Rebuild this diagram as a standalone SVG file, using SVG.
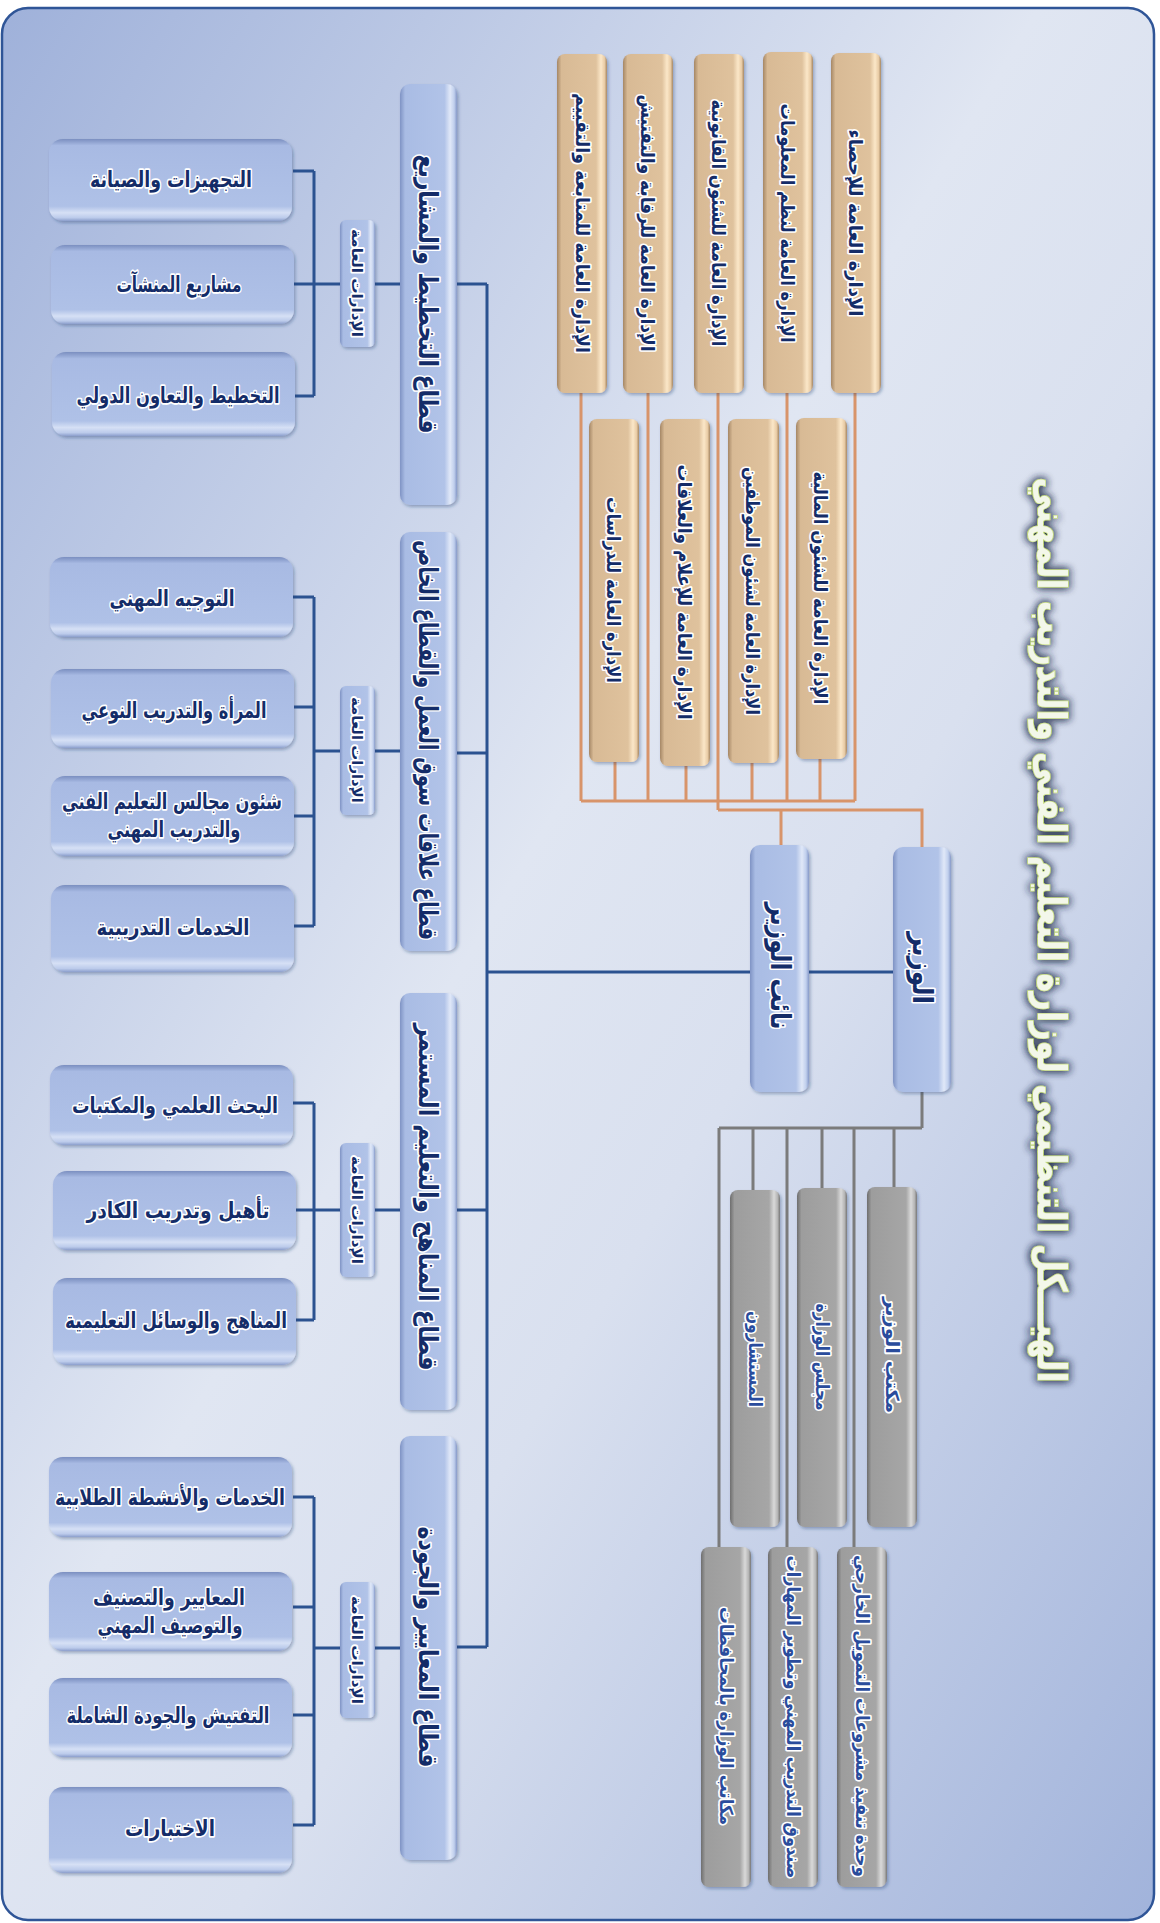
<svg xmlns="http://www.w3.org/2000/svg" width="1160" height="1923" viewBox="0 0 1160 1923">
<defs>
<linearGradient id="bg" x1="0" y1="0" x2="1" y2="1">
<stop offset="0" stop-color="#9fb1da"/>
<stop offset="0.45" stop-color="#e0e6f2"/>
<stop offset="0.6" stop-color="#d9e0ef"/>
<stop offset="1" stop-color="#a1b3db"/>
</linearGradient>
<linearGradient id="gBlueV" x1="0" y1="0" x2="1" y2="0">
<stop offset="0" stop-color="#7f93c4"/>
<stop offset="0.09" stop-color="#a9bce4"/>
<stop offset="0.78" stop-color="#b1c3e8"/>
<stop offset="0.88" stop-color="#e0e8f8"/>
<stop offset="0.95" stop-color="#c0cfed"/>
<stop offset="1" stop-color="#8699c8"/>
</linearGradient>
<linearGradient id="gTan" x1="0" y1="0" x2="1" y2="0">
<stop offset="0" stop-color="#a58766"/>
<stop offset="0.09" stop-color="#d8ba95"/>
<stop offset="0.78" stop-color="#dfc29d"/>
<stop offset="0.88" stop-color="#fbe7c8"/>
<stop offset="0.95" stop-color="#e9cca6"/>
<stop offset="1" stop-color="#a68865"/>
</linearGradient>
<linearGradient id="gGray" x1="0" y1="0" x2="1" y2="0">
<stop offset="0" stop-color="#6e6e6e"/>
<stop offset="0.09" stop-color="#9d9d9d"/>
<stop offset="0.78" stop-color="#a6a6a6"/>
<stop offset="0.88" stop-color="#d9d9d9"/>
<stop offset="0.95" stop-color="#b6b6b6"/>
<stop offset="1" stop-color="#777777"/>
</linearGradient>
<linearGradient id="gLeaf" x1="0" y1="0" x2="0" y2="1">
<stop offset="0" stop-color="#7b8fc0"/>
<stop offset="0.08" stop-color="#a8bae3"/>
<stop offset="0.82" stop-color="#afc1e7"/>
<stop offset="0.9" stop-color="#d6e0f5"/>
<stop offset="0.96" stop-color="#bccbeb"/>
<stop offset="1" stop-color="#8b9ecc"/>
</linearGradient>
<filter id="sh" x="-10%" y="-10%" width="130%" height="130%">
<feDropShadow dx="1.5" dy="2" stdDeviation="1.8" flood-color="#243a6a" flood-opacity="0.35"/>
</filter>
<filter id="glow" x="-10%" y="-30%" width="120%" height="160%">
<feGaussianBlur in="SourceAlpha" stdDeviation="4" result="b"/>
<feFlood flood-color="#29344f" flood-opacity="0.9"/>
<feComposite in2="b" operator="in"/>
<feMerge><feMergeNode/><feMergeNode/><feMergeNode in="SourceGraphic"/></feMerge>
</filter>
<style>
text{font-family:"DejaVu Sans",sans-serif;font-weight:bold;text-anchor:middle;dominant-baseline:central;paint-order:stroke;stroke-linejoin:round}
.t{fill:#142c68;stroke:#ffffff;stroke-width:3.5}
.tg{fill:#2a4c9c;stroke:#ffffff;stroke-width:3.5}
.leaf{fill:url(#gLeaf);filter:url(#sh)}
.bv{fill:url(#gBlueV);filter:url(#sh)}
.tan{fill:url(#gTan);filter:url(#sh)}
.gry{fill:url(#gGray);filter:url(#sh)}
.cb{stroke:#2b5290;stroke-width:3;fill:none}
.ct{stroke:#d8946a;stroke-width:3;fill:none}
.cg{stroke:#7b7b7b;stroke-width:3;fill:none}
.title{fill:#f3f7ea;stroke:#c6dd7c;stroke-width:1.6;font-size:40px}
</style>
</defs>

<rect x="0" y="0" width="1160" height="1923" fill="#ffffff"/>
<rect x="2" y="8" width="1152" height="1912" rx="26" fill="url(#bg)" stroke="#2f5597" stroke-width="2.5"/>

<g id="title">
<text class="title" filter="url(#glow)" transform="translate(1052,930) rotate(90)" textLength="905" lengthAdjust="spacingAndGlyphs">الهيـــكل التنظيمي لوزارة التعليم الفني والتدريب المهني</text>
</g>

<g id="connectors">
<path class="ct" d="M581 393V801M648 393V801M718 393V810M787 393V801M855 393V801M615 762V801M686 766V801M752 763V801M820 759V801M581 801H855M718 810H922V847M781 810V845"/>
<path class="cg" d="M922 1092V1128M719 1128H922M719 1128V1547M753 1128V1190M787 1128V1547M822 1128V1188M854 1128V1547M894 1128V1187"/>
<path class="cb" d="M487 972H893M487 284V1647M457 284H487M457 753H487M457 1210H487M457 1647H487"/>
<path class="cb" d="M375 284H400M375 751H400M375 1210H400M375 1648H400M314 284H340M314 751H340M314 1210H340M314 1648H340"/>
<path class="cb" d="M314 171V396M293 171H314M293 284H314M293 396H314"/>
<path class="cb" d="M314 597V926M293 597H314M293 707H314M293 816H314M293 926H314"/>
<path class="cb" d="M314 1103V1320M293 1103H314M293 1210H314M293 1320H314"/>
<path class="cb" d="M314 1497V1825M293 1497H314M293 1607H314M293 1715H314M293 1825H314"/>
</g>

<g id="tan1"><rect class="tan" x="557" y="54" width="50" height="339" rx="8"/><text class="t" font-size="19" transform="translate(583,223) rotate(90)" textLength="260" lengthAdjust="spacingAndGlyphs">الإدارة العامة للمتابعة والتقييم</text></g>
<g id="tan2"><rect class="tan" x="623" y="54" width="50" height="339" rx="8"/><text class="t" font-size="19" transform="translate(648,223) rotate(90)" textLength="257" lengthAdjust="spacingAndGlyphs">الإدارة العامة للرقابة والتفتيش</text></g>
<g id="tan3"><rect class="tan" x="694" y="54" width="50" height="339" rx="8"/><text class="t" font-size="19" transform="translate(719,223) rotate(90)" textLength="247" lengthAdjust="spacingAndGlyphs">الإدارة العامة للشئون القانونية</text></g>
<g id="tan4"><rect class="tan" x="763" y="52" width="50" height="341" rx="8"/><text class="t" font-size="19" transform="translate(788,223) rotate(90)" textLength="239" lengthAdjust="spacingAndGlyphs">الإدارة العامة لنظم المعلومات</text></g>
<g id="tan5"><rect class="tan" x="831" y="53" width="50" height="340" rx="8"/><text class="t" font-size="19" transform="translate(856,223) rotate(90)" textLength="187" lengthAdjust="spacingAndGlyphs">الإدارة العامة للإحصاء</text></g>

<g id="tanA"><rect class="tan" x="589" y="419" width="50" height="343" rx="8"/><text class="t" font-size="19" transform="translate(614,590) rotate(90)" textLength="186" lengthAdjust="spacingAndGlyphs">الإدارة العامة للدراسات</text></g>
<g id="tanB"><rect class="tan" x="660" y="419" width="50" height="347" rx="8"/><text class="t" font-size="19" transform="translate(685,592) rotate(90)" textLength="255" lengthAdjust="spacingAndGlyphs">الإدارة العامة للإعلام والعلاقات</text></g>
<g id="tanC"><rect class="tan" x="728" y="419" width="51" height="344" rx="8"/><text class="t" font-size="19" transform="translate(753,591) rotate(90)" textLength="248" lengthAdjust="spacingAndGlyphs">الإدارة العامة لشئون الموظفين</text></g>
<g id="tanD"><rect class="tan" x="796" y="418" width="51" height="341" rx="8"/><text class="t" font-size="19" transform="translate(821,588) rotate(90)" textLength="233" lengthAdjust="spacingAndGlyphs">الإدارة العامة للشئون المالية</text></g>

<g id="minister"><rect class="bv" x="893" y="847" width="58" height="245" rx="10"/><text class="t" font-size="28" transform="translate(922,968) rotate(90)" textLength="72" lengthAdjust="spacingAndGlyphs">الوزير</text></g>
<g id="deputy"><rect class="bv" x="750" y="845" width="59" height="247" rx="10"/><text class="t" font-size="28" transform="translate(780,966) rotate(90)" textLength="127" lengthAdjust="spacingAndGlyphs">نائب الوزير</text></g>

<g id="gray1"><rect class="gry" x="730" y="1190" width="50" height="337" rx="8"/><text class="tg" font-size="18" transform="translate(755,1359) rotate(90)" textLength="96" lengthAdjust="spacingAndGlyphs">المستشارون</text></g>
<g id="gray2"><rect class="gry" x="797" y="1188" width="50" height="339" rx="8"/><text class="tg" font-size="18" transform="translate(822,1357) rotate(90)" textLength="107" lengthAdjust="spacingAndGlyphs">مجلس الوزارة</text></g>
<g id="gray3"><rect class="gry" x="867" y="1187" width="50" height="340" rx="8"/><text class="tg" font-size="18" transform="translate(892,1355) rotate(90)" textLength="116" lengthAdjust="spacingAndGlyphs">مكتب الوزير</text></g>
<g id="gray4"><rect class="gry" x="701" y="1547" width="50" height="340" rx="8"/><text class="tg" font-size="18" transform="translate(726,1716) rotate(90)" textLength="218" lengthAdjust="spacingAndGlyphs">مكاتب الوزارة بالمحافظات</text></g>
<g id="gray5"><rect class="gry" x="768" y="1547" width="50" height="340" rx="8"/><text class="tg" font-size="18" transform="translate(793,1717) rotate(90)" textLength="323" lengthAdjust="spacingAndGlyphs">صندوق التدريب المهني وتطوير المهارات</text></g>
<g id="gray6"><rect class="gry" x="837" y="1547" width="50" height="340" rx="8"/><text class="tg" font-size="18" transform="translate(862,1716) rotate(90)" textLength="322" lengthAdjust="spacingAndGlyphs">وحدة تنفيذ مشروعات التمويل الخارجي</text></g>

<g id="sector1"><rect class="bv" x="400" y="84" width="57" height="421" rx="10"/><text class="t" font-size="26" transform="translate(428,294) rotate(90)" textLength="279" lengthAdjust="spacingAndGlyphs">قطاع التخطيط والمشاريع</text></g>
<g id="sector2"><rect class="bv" x="400" y="532" width="57" height="419" rx="10"/><text class="t" font-size="26" transform="translate(428,740) rotate(90)" textLength="400" lengthAdjust="spacingAndGlyphs">قطاع علاقات سوق العمل والقطاع الخاص</text></g>
<g id="sector3"><rect class="bv" x="400" y="993" width="57" height="417" rx="10"/><text class="t" font-size="26" transform="translate(428,1197) rotate(90)" textLength="347" lengthAdjust="spacingAndGlyphs">قطاع المناهج والتعليم المستمر</text></g>
<g id="sector4"><rect class="bv" x="400" y="1436" width="57" height="424" rx="10"/><text class="t" font-size="26" transform="translate(428,1647) rotate(90)" textLength="241" lengthAdjust="spacingAndGlyphs">قطاع المعايير والجودة</text></g>

<g id="gd1"><rect class="bv" x="340" y="220" width="35" height="127" rx="6"/><text class="t" font-size="14" stroke-width="2.5" transform="translate(357,283) rotate(90)" textLength="108" lengthAdjust="spacingAndGlyphs">الإدارات العامة</text></g>
<g id="gd2"><rect class="bv" x="340" y="686" width="35" height="129" rx="6"/><text class="t" font-size="14" stroke-width="2.5" transform="translate(357,750) rotate(90)" textLength="106" lengthAdjust="spacingAndGlyphs">الإدارات العامة</text></g>
<g id="gd3"><rect class="bv" x="340" y="1143" width="35" height="134" rx="6"/><text class="t" font-size="14" stroke-width="2.5" transform="translate(357,1210) rotate(90)" textLength="108" lengthAdjust="spacingAndGlyphs">الإدارات العامة</text></g>
<g id="gd4"><rect class="bv" x="340" y="1582" width="35" height="136" rx="6"/><text class="t" font-size="14" stroke-width="2.5" transform="translate(357,1650) rotate(90)" textLength="108" lengthAdjust="spacingAndGlyphs">الإدارات العامة</text></g>

<g id="l11"><rect class="leaf" x="49" y="139" width="243" height="82" rx="14"/><text class="t" font-size="22" x="171" y="179" textLength="162" lengthAdjust="spacingAndGlyphs">التجهيزات والصيانة</text></g>
<g id="l12"><rect class="leaf" x="51" y="245" width="243" height="79" rx="14"/><text class="t" font-size="22" x="179" y="284" textLength="125" lengthAdjust="spacingAndGlyphs">مشاريع المنشآت</text></g>
<g id="l13"><rect class="leaf" x="52" y="352" width="243" height="84" rx="14"/><text class="t" font-size="22" x="178" y="395" textLength="203" lengthAdjust="spacingAndGlyphs">التخطيط والتعاون الدولي</text></g>

<g id="l21"><rect class="leaf" x="50" y="557" width="243" height="80" rx="14"/><text class="t" font-size="22" x="172" y="598" textLength="125" lengthAdjust="spacingAndGlyphs">التوجيه المهني</text></g>
<g id="l22"><rect class="leaf" x="51" y="669" width="243" height="79" rx="14"/><text class="t" font-size="22" x="174" y="710" textLength="185" lengthAdjust="spacingAndGlyphs">المرأة والتدريب النوعي</text></g>
<g id="l23"><rect class="leaf" x="51" y="776" width="243" height="80" rx="14"/><text class="t" font-size="22" x="172" y="801" textLength="220" lengthAdjust="spacingAndGlyphs">شئون مجالس التعليم الفني</text><text class="t" font-size="22" x="174" y="829" textLength="133" lengthAdjust="spacingAndGlyphs">والتدريب المهني</text></g>
<g id="l24"><rect class="leaf" x="51" y="885" width="243" height="87" rx="14"/><text class="t" font-size="22" x="173" y="927" textLength="153" lengthAdjust="spacingAndGlyphs">الخدمات التدريبية</text></g>

<g id="l31"><rect class="leaf" x="50" y="1065" width="243" height="80" rx="14"/><text class="t" font-size="22" x="175" y="1105" textLength="206" lengthAdjust="spacingAndGlyphs">البحث العلمي والمكتبات</text></g>
<g id="l32"><rect class="leaf" x="53" y="1171" width="243" height="79" rx="14"/><text class="t" font-size="22" x="178" y="1210" textLength="183" lengthAdjust="spacingAndGlyphs">تأهيل وتدريب الكادر</text></g>
<g id="l33"><rect class="leaf" x="53" y="1278" width="243" height="87" rx="14"/><text class="t" font-size="22" x="176" y="1320" textLength="222" lengthAdjust="spacingAndGlyphs">المناهج والوسائل التعليمية</text></g>

<g id="l41"><rect class="leaf" x="49" y="1457" width="243" height="80" rx="14"/><text class="t" font-size="22" x="170" y="1497" textLength="230" lengthAdjust="spacingAndGlyphs">الخدمات والأنشطة الطلابية</text></g>
<g id="l42"><rect class="leaf" x="49" y="1572" width="243" height="79" rx="14"/><text class="t" font-size="22" x="169" y="1597" textLength="152" lengthAdjust="spacingAndGlyphs">المعايير والتصنيف</text><text class="t" font-size="22" x="170" y="1625" textLength="145" lengthAdjust="spacingAndGlyphs">والتوصيف المهني</text></g>
<g id="l43"><rect class="leaf" x="49" y="1678" width="243" height="79" rx="14"/><text class="t" font-size="22" x="168" y="1715" textLength="203" lengthAdjust="spacingAndGlyphs">التفتيش والجودة الشاملة</text></g>
<g id="l44"><rect class="leaf" x="49" y="1787" width="243" height="86" rx="14"/><text class="t" font-size="22" x="170" y="1828" textLength="90" lengthAdjust="spacingAndGlyphs">الاختبارات</text></g>
</svg>
